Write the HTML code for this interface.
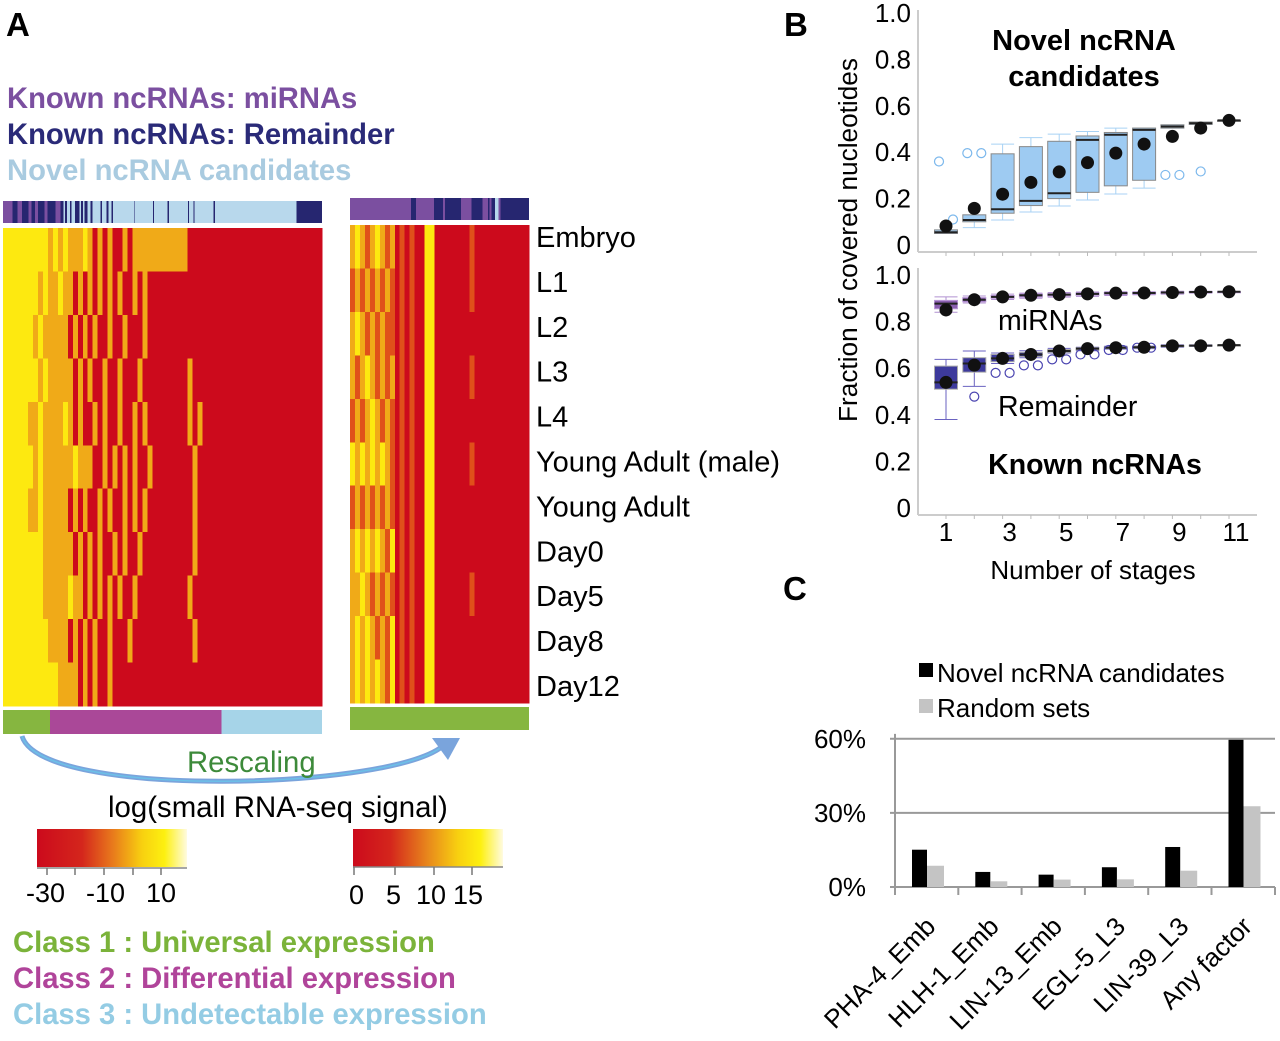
<!DOCTYPE html>
<html><head><meta charset="utf-8">
<style>
html,body{margin:0;padding:0;background:#fff;}
svg{display:block;font-family:"Liberation Sans",Arial,sans-serif;}
</style></head>
<body>
<svg id="fig" width="1280" height="1041" viewBox="0 0 1280 1041" xmlns="http://www.w3.org/2000/svg">
<defs>
<linearGradient id="gL" x1="0" x2="1" y1="0" y2="0">
<stop offset="0" stop-color="#cc0a1c"/><stop offset="0.3" stop-color="#d4261c"/><stop offset="0.5" stop-color="#e8781c"/><stop offset="0.7" stop-color="#f8d010"/><stop offset="0.85" stop-color="#fdf010"/><stop offset="1" stop-color="#fffbe0"/>
</linearGradient>
<linearGradient id="gR" x1="0" x2="1" y1="0" y2="0">
<stop offset="0" stop-color="#cc0a1c"/><stop offset="0.25" stop-color="#d4261c"/><stop offset="0.5" stop-color="#e8881c"/><stop offset="0.7" stop-color="#f8d010"/><stop offset="0.85" stop-color="#fdf010"/><stop offset="1" stop-color="#fffbe0"/>
</linearGradient>
</defs>
<text x="6" y="36" font-size="33" font-weight="bold">A</text>
<text x="784" y="36" font-size="33" font-weight="bold">B</text>
<text x="783" y="600" font-size="33" font-weight="bold">C</text>

<g font-size="29.2" font-weight="bold">
<text x="7" y="108" fill="#7b4fa0">Known ncRNAs: miRNAs</text>
<text x="7" y="144" fill="#2a2a78">Known ncRNAs: Remainder</text>
<text x="7" y="180" fill="#a9cbe0">Novel ncRNA candidates</text>
</g>

<g id="heat" shape-rendering="crispEdges"></g>

<g font-size="29" id="stagelabels"></g>

<g>
<path d="M22,736 C40,800 400,790 445,744" fill="none" stroke="#7aa4dc" stroke-width="5"/>
<path d="M22,736 C40,800 400,790 445,744" fill="none" stroke="#6cc0e8" stroke-width="1.5"/>
<polygon points="432,738 460,738 448,760" fill="#7aa4dc"/>
<text x="187" y="772" font-size="29.3" fill="#3d8a3a">Rescaling</text>
</g>
<text x="108" y="817" font-size="29.4">log(small RNA-seq signal)</text>
<rect x="37" y="829" width="150" height="38" fill="url(#gL)"/>
<rect x="353" y="829" width="150" height="38" fill="url(#gR)"/>
<line x1="37" y1="868" x2="187" y2="868" stroke="#888" stroke-width="1.5"/>
<line x1="353" y1="867" x2="503" y2="867" stroke="#888" stroke-width="1.5"/>
<g stroke="#777" stroke-width="1.5">
<line x1="47" y1="868" x2="47" y2="875"/><line x1="75" y1="868" x2="75" y2="875"/><line x1="104" y1="868" x2="104" y2="875"/><line x1="133" y1="868" x2="133" y2="875"/><line x1="161" y1="868" x2="161" y2="875"/>
<line x1="354" y1="867" x2="354" y2="875"/><line x1="395" y1="867" x2="395" y2="875"/><line x1="434" y1="867" x2="434" y2="875"/><line x1="472" y1="867" x2="472" y2="875"/>
</g>
<g font-size="27">
<text x="26" y="902">-30</text><text x="86" y="902">-10</text><text x="146" y="902">10</text>
<text x="349" y="904">0</text><text x="386" y="904">5</text><text x="416" y="904">10</text><text x="453" y="904">15</text>
</g>
<g font-size="29.2" font-weight="bold">
<text x="13" y="952" fill="#7bb33a">Class 1 : Universal expression</text>
<text x="13" y="988" fill="#b0449a">Class 2 : Differential expression</text>
<text x="13" y="1024" fill="#94cce4">Class 3 : Undetectable expression</text>
</g>

<g id="panelB"></g>
<g id="panelC"></g>
</svg>
<script>
// ---------- Panel A data ----------
const stages = ["Embryo","L1","L2","L3","L4","Young Adult (male)","Young Adult","Day0","Day5","Day8","Day12"];
// heat levels: 0 red, 1 dark orange, 2 gold, 3 yellow
const leftRows = [
"3333333332323222320202002022222222222000000000000000000000000000",
"3333333232232202020202020020200000000000000000000000000000000000",
"3333332322222020202002002000200000000000000000000000000000000000",
"3333333232222202020020020002000000000200000000000000000000000000",
"3333322322223202002020020020200000000202000000000000000000000000",
"3333332322222232220020202020020000000020000000000000000000000000",
"3333322322222020200202002020200000000020000000000000000000000000",
"3333333322222202020200202002000000000020000000000000000000000000",
"3333333322222322020202020020000000000200000000000000000000000000",
"3333333332222020202002000200000000000020000000000000000000000000",
"3333333333322220202002000000000000000000000000000000000000000000"];
const rightRows = [
"232123212010100330000000100000000000",
"121212121010100330000000100000000000",
"232121211010100330000000000000000000",
"212321212010100330000000100000000000",
"121232121010100330000000000000000000",
"323232321010100330000000100000000000",
"121212121010100330000000000000000000",
"232323213010100330000000000000000000",
"223212121010100330000000100000000000",
"232321213010100330000000000000000000",
"232323213010100330000000000000000000"];
const heatColors = ["#cc0a1c","#e0501a","#f0aa18","#fde910"];
const leftAnno = [[0,0.19,"p"],[0.19,0.92,"l"],[0.92,1,"n"],[0.03,0.045,"n"],[0.06,0.08,"n"],[0.09,0.10,"n"],[0.11,0.13,"n"],[0.14,0.165,"n"],[0.18,0.19,"n"],[0.195,0.2,"n"],[0.21,0.215,"n"],[0.225,0.24,"n"],[0.245,0.25,"n"],[0.255,0.265,"n"],[0.275,0.28,"n"],[0.305,0.31,"n"],[0.325,0.33,"n"],[0.34,0.345,"n"],[0.41,0.413,"n"],[0.47,0.473,"n"],[0.515,0.52,"n"],[0.58,0.583,"n"],[0.597,0.6,"n"],[0.66,0.665,"n"]];
const rightAnno = [[0,1,"p"],[0.34,0.37,"n"],[0.47,0.62,"n"],[0.52,0.53,"p"],[0.68,0.74,"n"],[0.77,0.78,"n"],[0.79,0.81,"n"],[0.81,0.83,"l"],[0.84,1,"n"]];
const annoColors = {p:"#7b4fa0",n:"#262670",l:"#b8d8ec"};
const leftClasses = [[0,0.148,"#86b640"],[0.148,0.685,"#aa4898"],[0.685,1,"#a6d4e8"]];
const rightClasses = [[0,1,"#86b640"]];

const NS="http://www.w3.org/2000/svg";
function mk(tag,attrs,parent){const e=document.createElementNS(NS,tag);for(const k in attrs)e.setAttribute(k,attrs[k]);parent.appendChild(e);return e;}
const heat=document.getElementById('heat');
function drawHeat(rows,x0,y0,w,h,name){
  const g=mk('g',{},heat);
  
  
  const rh=h/rows.length;
  rows.forEach((row,ri)=>{
    const cw=w/row.length;
    row.split('').forEach((c,ci)=>{
      const r=mk('rect',{x:x0+ci*cw,y:y0+ri*rh,width:cw+0.3,height:rh+0.3,fill:heatColors[+c]},g);
      
      
    });
  });
}
function drawSeg(segs,x0,y0,w,h,name,colorMap){
  const g=mk('g',{},heat);
  
  
  segs.forEach(s=>{
    const r=mk('rect',{x:x0+s[0]*w,y:y0,width:(s[1]-s[0])*w,height:h,fill:colorMap?colorMap[s[2]]:s[2]},g);
    
    
  });
}
drawHeat(leftRows,3,228,319,478,'heatmap-all');
drawHeat(rightRows,350,225,179,478,'heatmap-class1');
drawSeg(leftAnno,3,201,319,22,'annotation-bar-left',annoColors);
drawSeg(rightAnno,350,198,179,22,'annotation-bar-right',annoColors);
drawSeg(leftClasses,3,710,319,24,'class-bar-left',null);
drawSeg(rightClasses,350,707,179,23,'class-bar-right',null);
const sl=document.getElementById('stagelabels');
stages.forEach((s,i)=>{
  const t=mk('text',{x:536,y:247+i*44.9},sl);t.textContent=s;
  
  
});

// ---------- Panel B data ----------
const stageN=[1,2,3,4,5,6,7,8,9,10,11];
const novelBox=[[0.05,0.05,0.055,0.065,0.065],[0.075,0.10,0.108,0.13,0.13],[0.108,0.137,0.154,0.393,0.435],[0.142,0.17,0.19,0.424,0.463],[0.168,0.2,0.223,0.447,0.478],[0.194,0.227,0.453,0.47,0.489],[0.22,0.255,0.475,0.485,0.504],[0.245,0.279,0.496,0.504,0.504],[0.504,0.504,0.511,0.518,0.518],[0.52,0.52,0.525,0.53,0.53],[0.537,0.537,0.537,0.537,0.537]];
const novelMean=[0.082,0.158,0.219,0.27,0.315,0.355,0.396,0.435,0.468,0.504,0.537];
const novelOut=[[0.36,0.11],[0.396,0.396],[],[],[],[],[],[],[0.302,0.302],[0.317],[]];
const mirBox=[[0.84,0.855,0.877,0.891,0.906],[0.88,0.885,0.894,0.903,0.91],[0.895,0.9,0.906,0.912,0.918],[0.9,0.905,0.913,0.918,0.922],[0.905,0.91,0.916,0.92,0.925],[0.908,0.913,0.919,0.923,0.927],[0.912,0.916,0.922,0.925,0.928],[0.915,0.918,0.923,0.926,0.928],[0.918,0.92,0.925,0.928,0.93],[0.922,0.924,0.927,0.929,0.93],[0.928,0.928,0.928,0.928,0.928]];
const mirMean=[0.85,0.894,0.906,0.913,0.916,0.919,0.922,0.923,0.925,0.927,0.928];
const remBox=[[0.38,0.51,0.539,0.609,0.638],[0.522,0.583,0.62,0.645,0.674],[0.62,0.628,0.642,0.659,0.665],[0.645,0.65,0.659,0.668,0.675],[0.665,0.668,0.674,0.68,0.685],[0.675,0.678,0.684,0.688,0.69],[0.682,0.684,0.688,0.692,0.694],[0.684,0.686,0.69,0.693,0.695],[0.69,0.692,0.696,0.698,0.7],[0.694,0.695,0.697,0.699,0.7],[0.699,0.699,0.699,0.699,0.699]];
const remMean=[0.539,0.613,0.642,0.659,0.674,0.684,0.688,0.69,0.696,0.696,0.699];
const remOut=[[],[0.478],[0.58,0.58],[0.612,0.612],[0.638,0.638],[0.659,0.659],[0.678,0.678],[0.688,0.688],[0.696],[],[]];
const yTicksB=["0","0.2","0.4","0.6","0.8","1.0"];
const xTicksB=[1,3,5,7,9,11];

const B=document.getElementById('panelB');
const bx=n=>946+(n-1)*28.3;
const yTop=v=>245-v*232;
const yBot=v=>508-v*233;
[[10,252],[268,515]].forEach(a=>{
  mk('line',{x1:918,y1:a[0],x2:918,y2:a[1],stroke:'#ccc','stroke-width':2},B);
  mk('line',{x1:918,y1:a[1],x2:1257,y2:a[1],stroke:'#ccc','stroke-width':2},B);
  stageN.forEach(n=>mk('line',{x1:bx(n),y1:a[1],x2:bx(n),y2:a[1]+4,stroke:'#bbb','stroke-width':1},B));
});
yTicksB.forEach((t,i)=>{
  const v=i*0.2;
  [yTop(v),yBot(v)].forEach(y=>{
    const e=mk('text',{x:911,y:y+9,'font-size':26,'text-anchor':'end'},B);e.textContent=t;
    
    
  });
});
xTicksB.forEach(n=>{
  const e=mk('text',{x:bx(n)+(n>1?7:0),y:541,'font-size':26,'text-anchor':'middle'},B);e.textContent=n;
  
  
});
function txt(x,y,s,attrs,name){const e=mk('text',Object.assign({x:x,y:y},attrs),B);e.textContent=s;
  
  return e;}
txt(1093,579,"Number of stages",{'font-size':26,'text-anchor':'middle'},'x-axis-title');
txt(0,0,"Fraction of covered nucleotides",{'font-size':26.2,'text-anchor':'middle',transform:'translate(857,240) rotate(-90)'},'y-axis-title');
txt(1084,50,"Novel ncRNA",{'font-size':29,'font-weight':'bold','text-anchor':'middle'},'novel-title-1');
txt(1084,86,"candidates",{'font-size':29,'font-weight':'bold','text-anchor':'middle'},'novel-title-2');
txt(998,330,"miRNAs",{'font-size':28.5},'mirna-label');
txt(998,416,"Remainder",{'font-size':28.5},'remainder-label');
txt(1095,474,"Known ncRNAs",{'font-size':28.5,'font-weight':'bold','text-anchor':'middle'},'known-title');

function drawBoxes(boxes,means,outs,yf,fill,stroke,wcol,ocol,name){
  const g=mk('g',{},B);
  
  
  boxes.forEach((b,i)=>{
    const x=bx(stageN[i]),w=23;
    mk('line',{x1:x,y1:yf(b[0]),x2:x,y2:yf(b[4]),stroke:wcol,'stroke-width':1},g);
    mk('line',{x1:x-w/2,y1:yf(b[0]),x2:x+w/2,y2:yf(b[0]),stroke:wcol,'stroke-width':1},g);
    mk('line',{x1:x-w/2,y1:yf(b[4]),x2:x+w/2,y2:yf(b[4]),stroke:wcol,'stroke-width':1},g);
    const r=mk('rect',{x:x-w/2,y:yf(b[3]),width:w,height:Math.max(1,yf(b[1])-yf(b[3])),fill:fill,stroke:stroke,'stroke-width':1},g);
    
    
    mk('line',{x1:x-w/2,y1:yf(b[2]),x2:x+w/2,y2:yf(b[2]),stroke:'#222','stroke-width':2},g);
    (outs[i]||[]).forEach((o,k)=>{
      const off=outs[i].length>1?(k===0?-7:7):0;
      const c=mk('circle',{cx:x+off,cy:yf(o),r:4.5,fill:'none',stroke:ocol,'stroke-width':1.2},g);
      
      
    });
    const m=mk('circle',{cx:x,cy:yf(means[i]),r:6.5,fill:'#111'},g);
    
    
  });
}
drawBoxes(novelBox,novelMean,novelOut,yTop,'#9ecbf2','#888','#a8d2f4','#7cb8ec','novel-boxes');
drawBoxes(mirBox,mirMean,[],yBot,'#8a5fb0','#bb99d8','#b090d0','#8a5fb0','mirna-boxes');
drawBoxes(remBox,remMean,remOut,yBot,'#3d3a9c','#aaa','#6a62c0','#4a44b0','remainder-boxes');

// ---------- Panel C data ----------
const factors=["PHA-4_Emb","HLH-1_Emb","LIN-13_Emb","EGL-5_L3","LIN-39_L3","Any factor"];
const novelPct=[15.1,6.1,5.0,8.0,16.2,59.6];
const randomPct=[8.6,2.3,3.0,3.1,6.6,32.7];
const yTicksC=[0,30,60];
const C=document.getElementById('panelC');
const cy=v=>887-v*2.47;
const gx=i=>895+i*63.3;
yTicksC.forEach(t=>{
  mk('line',{x1:890,y1:cy(t),x2:1275,y2:cy(t),stroke:'#999','stroke-width':2},C);
  const e=mk('text',{x:866,y:cy(t)+9,'font-size':26,'text-anchor':'end'},C);e.textContent=t+'%';
  
  
});
mk('line',{x1:895,y1:cy(62),x2:895,y2:cy(0),stroke:'#999','stroke-width':2},C);
factors.forEach((f,i)=>{
  const x=gx(i);
  mk('line',{x1:x,y1:cy(0),x2:x,y2:cy(0)+8,stroke:'#999','stroke-width':2},C);
  const b=mk('rect',{x:x+17,y:cy(novelPct[i]),width:15,height:novelPct[i]*2.47,fill:'#000'},C);
  
  
  const r=mk('rect',{x:x+32,y:cy(randomPct[i]),width:17,height:randomPct[i]*2.47,fill:'#c4c4c4'},C);
  
  
  const t=mk('text',{x:0,y:0,'font-size':26,'text-anchor':'end',transform:`translate(${x+42},${928}) rotate(-45)`},C);
  t.textContent=f;
  
  
});
mk('line',{x1:1275,y1:cy(0),x2:1275,y2:cy(0)+8,stroke:'#999','stroke-width':2},C);
const l1=mk('rect',{x:919,y:663,width:14,height:14,fill:'#000'},C);


const l2=mk('rect',{x:919,y:699,width:14,height:14,fill:'#c4c4c4'},C);


const t1=mk('text',{x:937,y:682,'font-size':26},C);t1.textContent="Novel ncRNA candidates";


const t2=mk('text',{x:937,y:717,'font-size':26},C);t2.textContent="Random sets";


</script>
</body></html>
